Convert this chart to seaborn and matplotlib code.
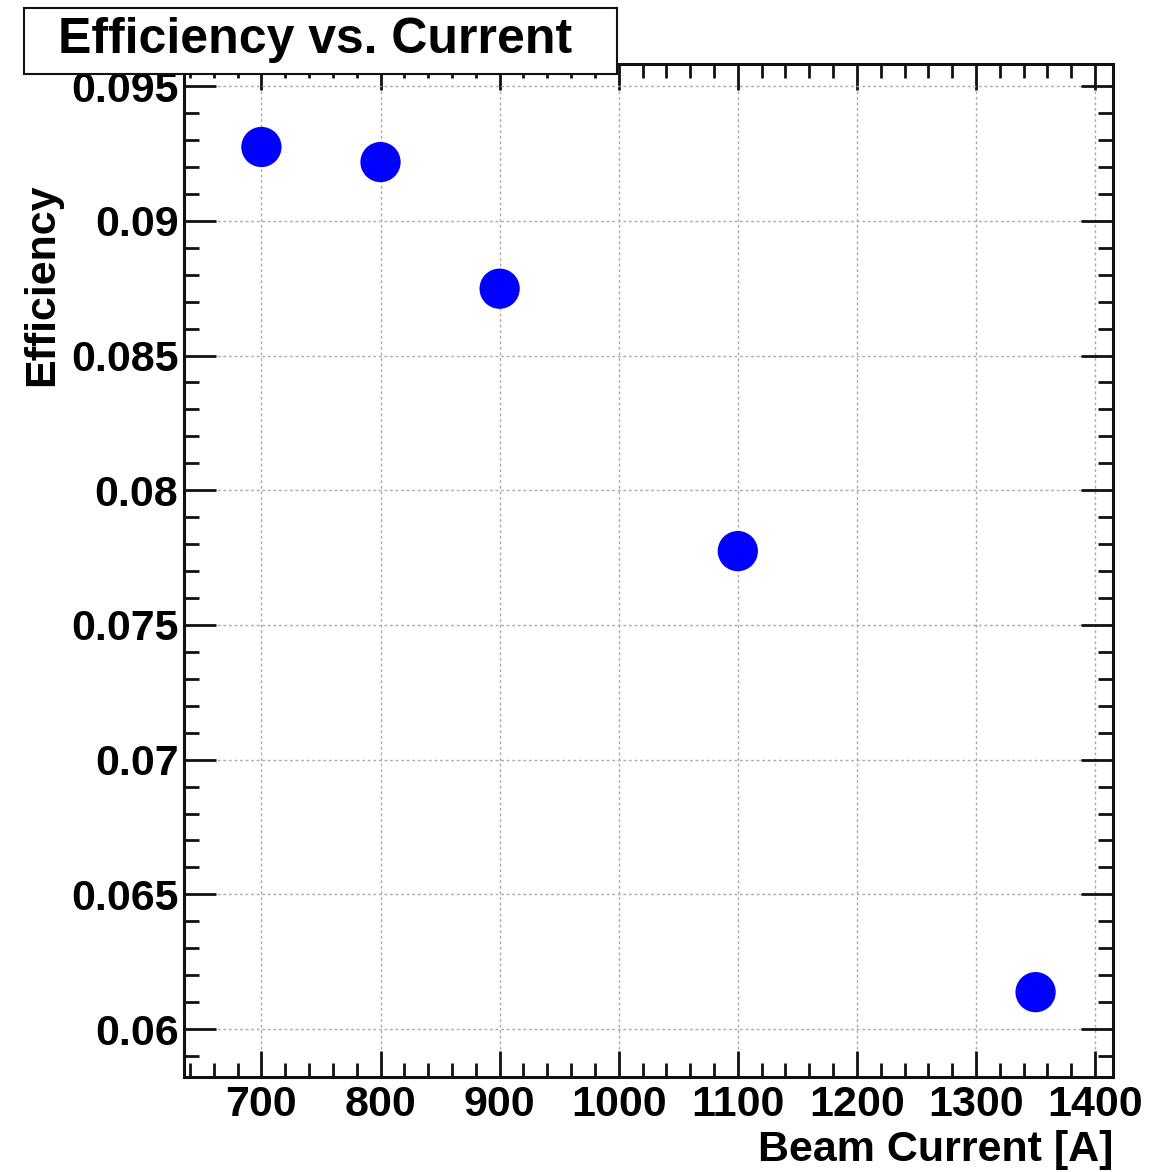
import matplotlib
matplotlib.use('Agg')
import matplotlib.pyplot as plt
import seaborn as sns
import pandas as pd
from matplotlib.patches import Rectangle
from matplotlib.ticker import MultipleLocator, FuncFormatter

# data
beam_current = [700, 800, 900, 1100, 1350]
efficiency = [0.09274, 0.09218, 0.08748, 0.07774, 0.06137]

x_ticks = [700, 800, 900, 1000, 1100, 1200, 1300, 1400]
y_ticks = [0.06, 0.065, 0.07, 0.075, 0.08, 0.085, 0.09, 0.095]

df = pd.DataFrame({'current': beam_current, 'eff': efficiency})

sns.set_style('white')
plt.rcParams['font.family'] = ['Liberation Sans', 'DejaVu Sans']
plt.rcParams['font.weight'] = 'bold'
plt.rcParams['text.color'] = 'black'
plt.rcParams['xtick.color'] = '#111111'
plt.rcParams['ytick.color'] = '#111111'
plt.rcParams['xtick.labelcolor'] = 'black'
plt.rcParams['ytick.labelcolor'] = 'black'

W, H = 1151, 1172
fig = plt.figure(figsize=(W / 100, H / 100), dpi=100)
ax = fig.add_axes([184 / W, (H - 1077) / H, (1113 - 184) / W, (1077 - 64) / H])

sns.scatterplot(data=df, x='current', y='eff', ax=ax, s=840, color='#0000ff',
                edgecolor='none', zorder=5, legend=False)

ax.set_xlim(635, 1415)
ax.set_ylim(0.05822, 0.09582)
ax.set_xticks(x_ticks)
ax.set_yticks(y_ticks)
ax.xaxis.set_minor_locator(MultipleLocator(20))
ax.yaxis.set_minor_locator(MultipleLocator(0.001))
ax.yaxis.set_major_formatter(FuncFormatter(lambda v, p: f'{v:g}'))

ax.tick_params(which='both', direction='in', bottom=True, left=True, top=True, right=True,
               width=2)
ax.tick_params(axis='y', which='major', length=23, labelsize=31, pad=4)
ax.tick_params(axis='x', which='major', length=19, labelsize=31, pad=6)
ax.tick_params(axis='y', which='minor', length=11)
ax.tick_params(axis='x', which='minor', length=10)
for lab in ax.get_xticklabels() + ax.get_yticklabels():
    lab.set_fontweight('bold')

ax.grid(True, which='major', linestyle=(0, (2, 2)), color='#aaaaaa', linewidth=1)
for sp in ax.spines.values():
    sp.set_visible(True)
    sp.set_linewidth(2.2)
    sp.set_color('#111111')

ax.set_xlabel('')
ax.set_ylabel('')
fig.text(1113 / W, 1 - 1150 / H, 'Beam Current [A]', ha='right', va='center',
         fontsize=31, fontweight='bold')
fig.text(42 / W, 1 - 285 / H, 'Efficiency', rotation=90, ha='center', va='center',
         fontsize=31, fontweight='bold')

# title box
fig.patches.append(Rectangle((24 / W, 1 - 74 / H), (617 - 24) / W, (74 - 8) / H,
                             transform=fig.transFigure, facecolor='white',
                             edgecolor='#111111', linewidth=1.5, zorder=10))
fig.text(315 / W, 1 - 40 / H, 'Efficiency vs. Current', ha='center', va='center',
         fontsize=36, fontweight='bold', zorder=11)

fig.savefig('out.png', dpi=100)
